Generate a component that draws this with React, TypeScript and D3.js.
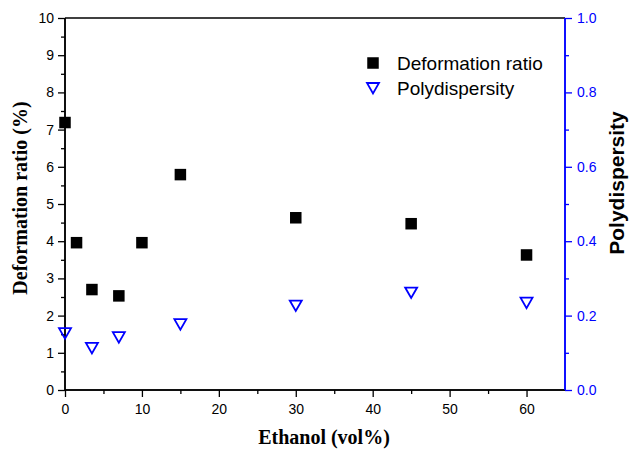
import React, { useRef, useEffect } from 'react';
import * as d3 from 'd3';

const ethanolDef = [0, 1.5, 3.5, 7, 10, 15, 30, 45, 60];
const deformation = [7.19, 3.96, 2.7, 2.53, 3.96, 5.79, 4.63, 4.47, 3.63];
const ethanolPoly = [0, 3.5, 7, 15, 30, 45, 60];
const polydispersity = [0.153, 0.113, 0.142, 0.177, 0.227, 0.262, 0.235];
const xTicks = [0, 10, 20, 30, 40, 50, 60];
const yTicks = [0, 1, 2, 3, 4, 5, 6, 7, 8, 9, 10];
const y2Ticks = [0, 0.2, 0.4, 0.6, 0.8, 1.0];

const BLUE = '#0000ff';

export default function App() {
  const ref = useRef<SVGSVGElement>(null);
  useEffect(() => {
    const svg = d3.select(ref.current);
    svg.selectAll('*').remove();
    const W = 629, H = 451;
    const left = 65, right = 565, top = 18, bottom = 390;
    svg.attr('width', W).attr('height', H);

    const x = d3.scaleLinear().domain([0, 65]).range([left, right]);
    const y = d3.scaleLinear().domain([0, 10]).range([bottom, top]);
    const y2 = d3.scaleLinear().domain([0, 1]).range([bottom, top]);
    const sans = 'Liberation Sans, Arial, sans-serif';
    const serif = 'Liberation Serif, Times New Roman, serif';

    // frame: top line
    svg.append('line').attr('x1', left).attr('x2', right).attr('y1', top).attr('y2', top)
      .attr('stroke', '#000').attr('stroke-width', 1.5);

    // bottom axis
    const gx = svg.append('g').attr('transform', `translate(0,${bottom})`);
    gx.call(d3.axisBottom(x).tickValues(d3.range(5, 65, 10)).tickSize(4).tickFormat(() => ''));
    gx.call(g => g.append('g').call(d3.axisBottom(x).tickValues(xTicks).tickSize(7).tickFormat(d3.format('d'))));
    gx.selectAll('.domain').attr('stroke-width', 1.5).attr('d', `M${left},0H${right}`);
    gx.selectAll('line').attr('stroke', '#000').attr('stroke-width', 1.3);
    gx.selectAll('text').attr('font-family', sans).attr('font-size', 14).attr('fill', '#000').attr('y', 14);

    // left axis
    const gy = svg.append('g').attr('transform', `translate(${left},0)`);
    gy.call(d3.axisLeft(y).tickValues(d3.range(0.5, 10, 1)).tickSize(4).tickFormat(() => ''));
    gy.call(g => g.append('g').call(d3.axisLeft(y).tickValues(yTicks).tickSize(7).tickFormat(d3.format('d'))));
    gy.selectAll('.domain').attr('stroke-width', 1.5).attr('d', `M0,${top}V${bottom}`);
    gy.selectAll('line').attr('stroke', '#000').attr('stroke-width', 1.3);
    gy.selectAll('text').attr('font-family', sans).attr('font-size', 14).attr('fill', '#000').attr('x', -11);

    // right axis
    const gy2 = svg.append('g').attr('transform', `translate(${right},0)`);
    gy2.call(d3.axisRight(y2).tickValues(d3.range(0.1, 1, 0.2)).tickSize(4).tickFormat(() => ''));
    gy2.call(g => g.append('g').call(d3.axisRight(y2).tickValues(y2Ticks).tickSize(7).tickFormat(d3.format('.1f'))));
    gy2.selectAll('.domain').attr('stroke', BLUE).attr('stroke-width', 1.5).attr('d', `M0,${top}V${bottom}`);
    gy2.selectAll('line').attr('stroke', BLUE).attr('stroke-width', 1.3);
    gy2.selectAll('text').attr('font-family', sans).attr('font-size', 14).attr('fill', BLUE).attr('x', 12);

    // axis titles
    svg.append('text').attr('x', (left + right) / 2 + 9).attr('y', 444)
      .attr('text-anchor', 'middle').attr('font-family', serif).attr('font-weight', 'bold')
      .attr('font-size', 20).text('Ethanol (vol%)');
    svg.append('text').attr('transform', 'translate(20,198) rotate(-90)').attr('dy', '0.35em')
      .attr('text-anchor', 'middle').attr('font-family', serif).attr('font-weight', 'bold')
      .attr('font-size', 20).text('Deformation ratio (%)');
    svg.append('text').attr('transform', 'translate(617,183) rotate(-90)').attr('dy', '0.35em')
      .attr('text-anchor', 'middle').attr('font-family', sans).attr('font-weight', 'bold')
      .attr('font-size', 21).text('Polydispersity');

    const sq = 11.5;
    const tri = 'M-6,-5L6,-5L0,5.5Z';

    // data
    svg.append('g').selectAll('rect').data(ethanolDef.map((e, i) => [e, deformation[i]]))
      .join('rect')
      .attr('x', d => x(d[0]) - sq / 2).attr('y', d => y(d[1]) - sq / 2)
      .attr('width', sq).attr('height', sq).attr('fill', '#000');
    svg.append('g').selectAll('path').data(ethanolPoly.map((e, i) => [e, polydispersity[i]]))
      .join('path')
      .attr('d', tri).attr('transform', d => `translate(${x(d[0])},${y2(d[1])})`)
      .attr('fill', 'none').attr('stroke', BLUE).attr('stroke-width', 1.8);

    // legend
    const lg = svg.append('g');
    lg.append('rect').attr('x', 373 - sq / 2).attr('y', 63 - sq / 2).attr('width', sq).attr('height', sq).attr('fill', '#000');
    lg.append('text').attr('x', 397).attr('y', 63).attr('dy', '0.35em').attr('font-family', sans)
      .attr('font-size', 19).text('Deformation ratio');
    lg.append('path').attr('d', tri).attr('transform', 'translate(373,88)')
      .attr('fill', 'none').attr('stroke', BLUE).attr('stroke-width', 1.8);
    lg.append('text').attr('x', 397).attr('y', 88).attr('dy', '0.35em').attr('font-family', sans)
      .attr('font-size', 19).text('Polydispersity');
  }, []);
  return <svg ref={ref} style={{ position: 'absolute', left: 0, top: 0, background: '#fff' }} />;
}
